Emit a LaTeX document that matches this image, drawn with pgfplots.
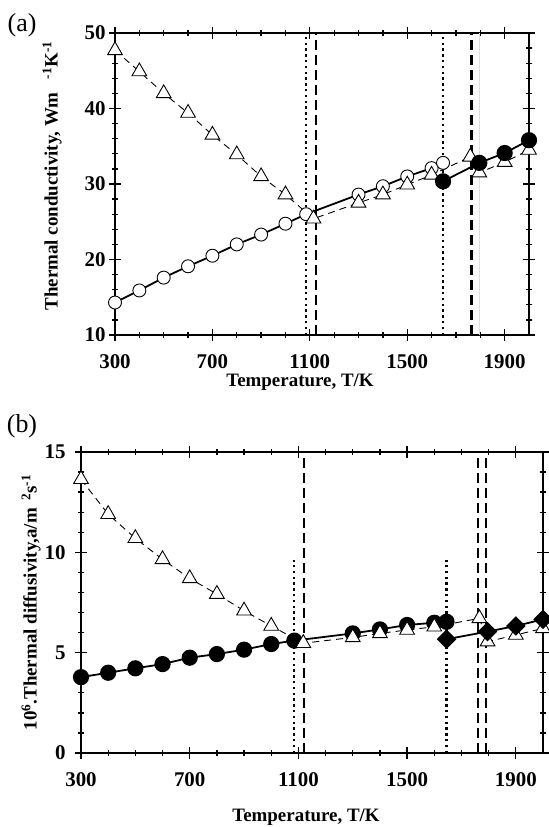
\documentclass[border=0pt]{standalone}
\usepackage{fontspec}
\setmainfont{Liberation Serif}
\usepackage{pgfplots}
\pgfplotsset{compat=1.18}
\begin{document}
\begin{tikzpicture}
\useasboundingbox (0bp,0bp) rectangle (549bp,827bp);
\pgfplotsset{
  every axis/.append style={
    scale only axis, clip=false,
    xmin=300, xmax=2000,
    xtick={300,700,1100,1500,1900},
    minor x tick num=3,
    tick align=center,
    major tick length=12bp, minor tick length=6bp,
    axis line style={line width=1.6pt},
    every tick/.style={line width=1.3pt, black},
    /pgf/number format/assume math mode=true,
    /pgf/number format/1000 sep={},
    ticklabel style={font=\fontsize{21}{22}\selectfont\bfseries},
    xticklabel style={yshift=-10bp},
    label style={font=\fontsize{19}{21}\selectfont\bfseries},
  },
  circ/.style={line width=1.8pt, black, mark=*, mark size=6.5bp, mark options={solid, fill=white, line width=0.9pt}},
  fcirc/.style={line width=1.8pt, black, mark=*, mark size=7.2bp, mark options={solid, fill=black}},
  tri/.style={line width=0.9pt, black, dash pattern=on 7bp off 5bp, mark=triangle*, mark size=8.5bp, mark options={solid, fill=white, line width=0.9pt}},
  diam/.style={line width=1.8pt, black, mark=square*, mark size=6bp, mark options={solid, fill=black, rotate=45}},
  vdot/.style={black, line width=2.3pt, dash pattern=on 2.3bp off 3.5bp},
  vdash/.style={black, line width=2.2pt, dash pattern=on 10bp off 5bp},
}
% ---------------- panel (a)
\begin{axis}[at={(115bp,492bp)}, anchor=south west, width=414bp, height=302bp,
  ymin=10, ymax=50, ytick={10,20,30,40,50}, minor y tick num=4,
  xlabel={Temperature, T/K},
  xlabel style={at={(axis description cs:0.5,0)}, anchor=center, yshift=-47bp, xshift=-22bp},
  ylabel={Thermal conductivity, Wm\hspace{0.7em}\textsuperscript{-1}K\textsuperscript{-1}},
  ylabel style={at={(axis description cs:-0.152,0.527)}, anchor=center},
]
\addplot[vdot] coordinates {(1085,10) (1085,50)};
\addplot[vdash] coordinates {(1125,10) (1125,50)};
\addplot[vdot] coordinates {(1647,10) (1647,50)};
\addplot[vdash] coordinates {(1764,10) (1764,50)};
\addplot[gray!25, line width=1.5pt] coordinates {(1796,10) (1796,50)};
\addplot[circ] coordinates {(300,14.3)(400,15.9)(500,17.6)(600,19.1)(700,20.5)(800,22.0)(900,23.3)(1000,24.74)(1085,26.0)(1300,28.6)(1400,29.7)(1500,31.0)(1600,32.1)(1647,32.8)};
\addplot[tri] coordinates {(300,47.7)(400,44.9)(500,42.0)(600,39.4)(700,36.5)(800,33.9)(900,31.0)(1000,28.6)(1115,25.4)(1300,27.5)(1400,28.6)(1500,29.9)(1600,31.2)(1759,33.6)(1796,31.5)(1900,32.9)(2000,34.5)};
\addplot[fcirc] coordinates {(1647,30.35)(1796,32.8)(1900,34.1)(2000,35.8)};
\end{axis}
% ---------------- panel (b)
\begin{axis}[at={(81bp,74bp)}, anchor=south west, width=462bp, height=301bp,
  ymin=0, ymax=15, ytick={0,5,10,15}, minor y tick num=4,
  yticklabel style={xshift=-6bp},
  xlabel={Temperature, T/K},
  xlabel style={at={(axis description cs:0.5,0)}, anchor=center, yshift=-64bp, xshift=-6bp},
  ylabel={10\textsuperscript{6}.Thermal diffusivity,a/m\hspace{0.4em}\textsuperscript{2}s\textsuperscript{-1}},
  ylabel style={at={(axis description cs:-0.108,0.5)}, anchor=center},
]
\addplot[vdot] coordinates {(1085,0) (1085,9.6)};
\addplot[vdash] coordinates {(1121,0) (1121,15)};
\addplot[vdot] coordinates {(1645,0) (1645,9.6)};
\addplot[vdash] coordinates {(1762,0) (1762,15)};
\addplot[vdash] coordinates {(1789,0) (1789,15)};
\addplot[fcirc] coordinates {(300,3.78)(400,4.0)(500,4.22)(600,4.43)(700,4.75)(800,4.93)(900,5.15)(1000,5.43)(1085,5.6)(1300,5.96)(1400,6.16)(1500,6.38)(1600,6.49)(1645,6.54)};
\addplot[tri] coordinates {(300,13.64)(400,11.9)(500,10.7)(600,9.65)(700,8.7)(800,7.92)(900,7.09)(1000,6.33)(1118,5.47)(1300,5.76)(1400,5.96)(1500,6.13)(1600,6.29)(1766,6.71)(1796,5.55)(1900,5.88)(2000,6.21)};
\addplot[diam] coordinates {(1645,5.67)(1796,6.05)(1900,6.33)(2000,6.66)};
\end{axis}
\node[font=\fontsize{26}{28}\selectfont, anchor=center] at (22bp,802bp) {(a)};
\node[font=\fontsize{26}{28}\selectfont, anchor=center] at (22bp,401bp) {(b)};
\end{tikzpicture}
\end{document}
